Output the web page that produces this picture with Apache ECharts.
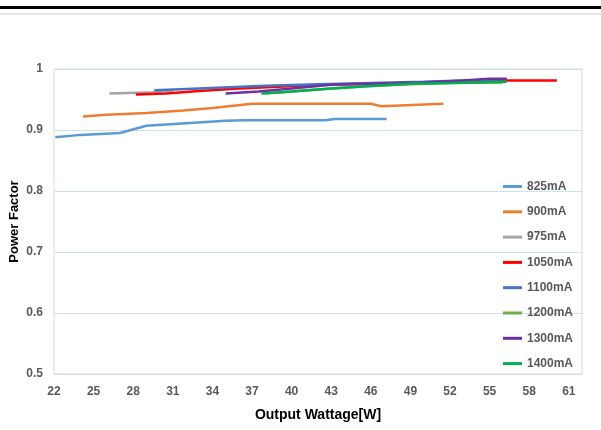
<!DOCTYPE html>
<html>
<head>
<meta charset="utf-8">
<script src="https://cdn.jsdelivr.net/npm/echarts@6/dist/echarts.min.js"></script>
<style>
html,body{margin:0;padding:0;background:#fff;}
#c{width:601px;height:430px;}
</style>
</head>
<body>
<div id="c"></div>
<script>
var seriesNames = ['825mA','900mA','975mA','1050mA','1100mA','1200mA','1300mA','1400mA'];
var seriesColors = ['#5B9BD5','#ED7D31','#A5A5A5','#FF0000','#4472C4','#70AD47','#7030A0','#00B050'];

var s825 = [[22.1,0.888],[24,0.892],[27,0.895],[29,0.907],[32,0.911],[35,0.915],[36.5,0.916],[42.5,0.916],[43.3,0.918],[47.2,0.918]];
var s900 = [[24.2,0.922],[26,0.925],[29,0.928],[31.8,0.932],[34,0.936],[37,0.943],[46,0.943],[46.8,0.939],[51.5,0.943]];
var s975 = [[26.2,0.960],[29.5,0.962],[31,0.964]];
var s1050 = [[28.2,0.958],[30.5,0.960],[33,0.964],[36,0.968],[39,0.971],[42,0.974],[46,0.976],[50,0.978],[54,0.980],[56.3,0.981],[60.1,0.981]];
var s1100 = [[29.6,0.965],[33,0.968],[37.5,0.972],[42,0.975],[46,0.977],[50,0.979],[53,0.981],[56.3,0.983]];
var s1200 = [[38,0.960],[40,0.963],[43,0.968],[46,0.972],[49,0.975],[52,0.977],[56,0.978]];
var s1300 = [[35,0.960],[37.5,0.963],[40,0.968],[43,0.974],[46,0.976],[50,0.978],[53,0.981],[55,0.984],[56.3,0.984]];
var s1400 = [[37.7,0.960],[40,0.963],[43,0.968],[46,0.972],[49,0.976],[52,0.977],[56.3,0.979]];
var seriesData = [s825,s900,s975,s1050,s1100,s1200,s1300,s1400];

var xMin = 22, xMax = 62, xStep = 3;
var yMin = 0.5, yMax = 1, yStep = 0.1;

var FONT = 'Liberation Sans';
var chart = echarts.init(document.getElementById('c'), null, {renderer:'canvas'});
var series = seriesNames.map(function(n,i){
  return {
    name:n, type:'line', data:seriesData[i], showSymbol:false, symbol:'none',
    lineStyle:{width:2.5,color:seriesColors[i]}, itemStyle:{color:seriesColors[i]},
    animation:false
  };
});
chart.setOption({
  animation:false,
  backgroundColor:'#fff',
  graphic:[
    {type:'rect',shape:{x:0,y:6,width:601,height:3},style:{fill:'#000'},silent:true},
    {type:'rect',shape:{x:0,y:13,width:601,height:2},style:{fill:'#e4e4e4'},silent:true}
  ],
  grid:{left:54,right:19,top:69,bottom:56,show:true,borderColor:'#d9d9d9',borderWidth:1,
    backgroundColor:'transparent',containLabel:false,outerBoundsMode:'none'},
  legend:{
    orient:'vertical', left:503, top:179.5, itemGap:11.3, itemWidth:19, itemHeight:3, icon:'rect',
    padding:0,
    textStyle:{fontFamily:FONT,fontWeight:'bold',fontSize:12,color:'#595959',lineHeight:14,letterSpacing:-0.6},
    data:seriesNames
  },
  xAxis:{
    type:'value', min:xMin, max:xMax, interval:xStep,
    name:'Output Wattage[W]', nameLocation:'middle', nameGap:34, nameMoveOverlap:false,
    nameTextStyle:{fontFamily:FONT,fontWeight:'bold',fontSize:14,color:'#000',letterSpacing:-0.4},
    axisLine:{show:false}, axisTick:{show:false}, splitLine:{show:false},
    axisLabel:{showMaxLabel:false,margin:12,fontFamily:FONT,fontWeight:'bold',fontSize:12,color:'#595959'}
  },
  yAxis:{
    type:'value', min:yMin, max:yMax, interval:yStep,
    name:'Power Factor', nameLocation:'middle', nameGap:33, nameMoveOverlap:false,
    nameTextStyle:{fontFamily:FONT,fontWeight:'bold',fontSize:13,color:'#000'},
    axisLine:{show:false}, axisTick:{show:false},
    splitLine:{show:true,lineStyle:{color:'#cfdff0',width:1}},
    axisLabel:{margin:11,fontFamily:FONT,fontWeight:'bold',fontSize:12,color:'#595959',
      formatter:function(v){return (Math.round(v*10)/10).toString();}}
  },
  series:series
});
</script>
</body>
</html>
